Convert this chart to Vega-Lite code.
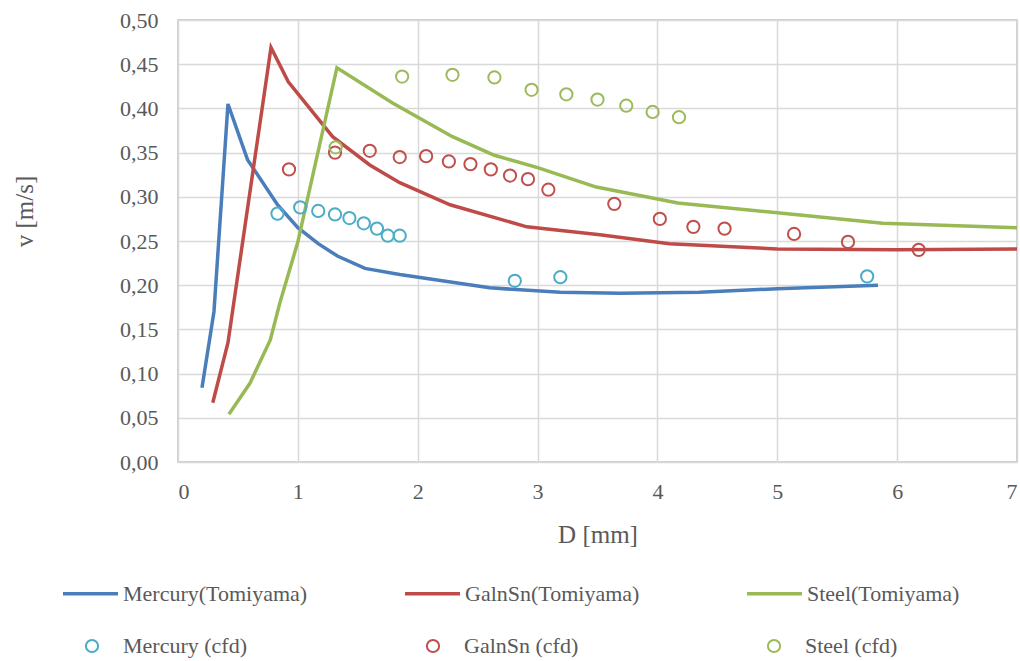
{
  "$schema": "https://vega.github.io/schema/vega-lite/v6.json",
  "width": 839,
  "height": 442,
  "autosize": {"type": "none"},
  "padding": {"left": 178, "top": 20, "right": 3, "bottom": 199},
  "background": "white",
  "config": {
    "font": "'Liberation Serif', 'Times New Roman', serif",
    "view": {"stroke": "#BFBFBF", "strokeWidth": 1.5},
    "axis": {
      "labelFont": "'Liberation Serif', 'Times New Roman', serif", "labelFontSize": 22, "labelColor": "#595959",
      "titleFont": "'Liberation Serif', 'Times New Roman', serif", "titleFontSize": 25, "titleColor": "#595959", "titleFontWeight": "normal",
      "gridColor": "#D9D9D9", "gridWidth": 1.5, "domain": false, "ticks": false
    },
    "legend": {
      "labelFont": "'Liberation Serif', 'Times New Roman', serif", "labelFontSize": 22, "labelColor": "#595959", "labelLimit": 400,
      "orient": "none", "direction": "horizontal", "columns": 3, "gridAlign": "all", "padding": 0, "title": null
    }
  },
  "data": {"values": [
    {"s": "Mercury(Tomiyama)", "t": "line", "D": 0.2, "v": 0.084},
    {"s": "Mercury(Tomiyama)", "t": "line", "D": 0.3, "v": 0.17},
    {"s": "Mercury(Tomiyama)", "t": "line", "D": 0.417, "v": 0.405},
    {"s": "Mercury(Tomiyama)", "t": "line", "D": 0.58, "v": 0.342},
    {"s": "Mercury(Tomiyama)", "t": "line", "D": 0.83, "v": 0.291},
    {"s": "Mercury(Tomiyama)", "t": "line", "D": 1.0, "v": 0.265},
    {"s": "Mercury(Tomiyama)", "t": "line", "D": 1.17, "v": 0.247},
    {"s": "Mercury(Tomiyama)", "t": "line", "D": 1.33, "v": 0.233},
    {"s": "Mercury(Tomiyama)", "t": "line", "D": 1.56, "v": 0.219},
    {"s": "Mercury(Tomiyama)", "t": "line", "D": 1.85, "v": 0.212},
    {"s": "Mercury(Tomiyama)", "t": "line", "D": 2.6, "v": 0.197},
    {"s": "Mercury(Tomiyama)", "t": "line", "D": 3.19, "v": 0.192},
    {"s": "Mercury(Tomiyama)", "t": "line", "D": 3.69, "v": 0.191},
    {"s": "Mercury(Tomiyama)", "t": "line", "D": 4.35, "v": 0.192},
    {"s": "Mercury(Tomiyama)", "t": "line", "D": 5.0, "v": 0.196},
    {"s": "Mercury(Tomiyama)", "t": "line", "D": 5.84, "v": 0.200},
    {"s": "GalnSn(Tomiyama)", "t": "line", "D": 0.29, "v": 0.067},
    {"s": "GalnSn(Tomiyama)", "t": "line", "D": 0.417, "v": 0.135},
    {"s": "GalnSn(Tomiyama)", "t": "line", "D": 0.776, "v": 0.469},
    {"s": "GalnSn(Tomiyama)", "t": "line", "D": 0.92, "v": 0.43},
    {"s": "GalnSn(Tomiyama)", "t": "line", "D": 1.29, "v": 0.368},
    {"s": "GalnSn(Tomiyama)", "t": "line", "D": 1.6, "v": 0.336},
    {"s": "GalnSn(Tomiyama)", "t": "line", "D": 1.85, "v": 0.316},
    {"s": "GalnSn(Tomiyama)", "t": "line", "D": 2.27, "v": 0.291},
    {"s": "GalnSn(Tomiyama)", "t": "line", "D": 2.91, "v": 0.266},
    {"s": "GalnSn(Tomiyama)", "t": "line", "D": 3.52, "v": 0.257},
    {"s": "GalnSn(Tomiyama)", "t": "line", "D": 4.1, "v": 0.247},
    {"s": "GalnSn(Tomiyama)", "t": "line", "D": 5.0, "v": 0.241},
    {"s": "GalnSn(Tomiyama)", "t": "line", "D": 6.0, "v": 0.240},
    {"s": "GalnSn(Tomiyama)", "t": "line", "D": 7.0, "v": 0.241},
    {"s": "Steel(Tomiyama)", "t": "line", "D": 0.425, "v": 0.054},
    {"s": "Steel(Tomiyama)", "t": "line", "D": 0.6, "v": 0.089},
    {"s": "Steel(Tomiyama)", "t": "line", "D": 0.77, "v": 0.138},
    {"s": "Steel(Tomiyama)", "t": "line", "D": 0.85, "v": 0.18},
    {"s": "Steel(Tomiyama)", "t": "line", "D": 1.0, "v": 0.249},
    {"s": "Steel(Tomiyama)", "t": "line", "D": 1.326, "v": 0.446},
    {"s": "Steel(Tomiyama)", "t": "line", "D": 1.79, "v": 0.406},
    {"s": "Steel(Tomiyama)", "t": "line", "D": 2.29, "v": 0.368},
    {"s": "Steel(Tomiyama)", "t": "line", "D": 2.64, "v": 0.347},
    {"s": "Steel(Tomiyama)", "t": "line", "D": 3.0, "v": 0.333},
    {"s": "Steel(Tomiyama)", "t": "line", "D": 3.49, "v": 0.311},
    {"s": "Steel(Tomiyama)", "t": "line", "D": 4.17, "v": 0.293},
    {"s": "Steel(Tomiyama)", "t": "line", "D": 5.0, "v": 0.282},
    {"s": "Steel(Tomiyama)", "t": "line", "D": 5.88, "v": 0.270},
    {"s": "Steel(Tomiyama)", "t": "line", "D": 7.0, "v": 0.265},
    {"s": "Mercury (cfd)", "t": "cfd", "D": 0.83, "v": 0.281},
    {"s": "Mercury (cfd)", "t": "cfd", "D": 1.02, "v": 0.288},
    {"s": "Mercury (cfd)", "t": "cfd", "D": 1.17, "v": 0.284},
    {"s": "Mercury (cfd)", "t": "cfd", "D": 1.31, "v": 0.280},
    {"s": "Mercury (cfd)", "t": "cfd", "D": 1.43, "v": 0.276},
    {"s": "Mercury (cfd)", "t": "cfd", "D": 1.55, "v": 0.270},
    {"s": "Mercury (cfd)", "t": "cfd", "D": 1.66, "v": 0.264},
    {"s": "Mercury (cfd)", "t": "cfd", "D": 1.75, "v": 0.256},
    {"s": "Mercury (cfd)", "t": "cfd", "D": 1.85, "v": 0.256},
    {"s": "Mercury (cfd)", "t": "cfd", "D": 2.81, "v": 0.205},
    {"s": "Mercury (cfd)", "t": "cfd", "D": 3.19, "v": 0.209},
    {"s": "Mercury (cfd)", "t": "cfd", "D": 5.75, "v": 0.210},
    {"s": "GalnSn (cfd)", "t": "cfd", "D": 0.926, "v": 0.331},
    {"s": "GalnSn (cfd)", "t": "cfd", "D": 1.31, "v": 0.350},
    {"s": "GalnSn (cfd)", "t": "cfd", "D": 1.60, "v": 0.352},
    {"s": "GalnSn (cfd)", "t": "cfd", "D": 1.85, "v": 0.345},
    {"s": "GalnSn (cfd)", "t": "cfd", "D": 2.07, "v": 0.346},
    {"s": "GalnSn (cfd)", "t": "cfd", "D": 2.26, "v": 0.340},
    {"s": "GalnSn (cfd)", "t": "cfd", "D": 2.44, "v": 0.337},
    {"s": "GalnSn (cfd)", "t": "cfd", "D": 2.61, "v": 0.331},
    {"s": "GalnSn (cfd)", "t": "cfd", "D": 2.77, "v": 0.324},
    {"s": "GalnSn (cfd)", "t": "cfd", "D": 2.92, "v": 0.320},
    {"s": "GalnSn (cfd)", "t": "cfd", "D": 3.09, "v": 0.308},
    {"s": "GalnSn (cfd)", "t": "cfd", "D": 3.64, "v": 0.292},
    {"s": "GalnSn (cfd)", "t": "cfd", "D": 4.02, "v": 0.275},
    {"s": "GalnSn (cfd)", "t": "cfd", "D": 4.30, "v": 0.266},
    {"s": "GalnSn (cfd)", "t": "cfd", "D": 4.56, "v": 0.264},
    {"s": "GalnSn (cfd)", "t": "cfd", "D": 5.14, "v": 0.258},
    {"s": "GalnSn (cfd)", "t": "cfd", "D": 5.59, "v": 0.249},
    {"s": "GalnSn (cfd)", "t": "cfd", "D": 6.18, "v": 0.240},
    {"s": "Steel (cfd)", "t": "cfd", "D": 1.315, "v": 0.356},
    {"s": "Steel (cfd)", "t": "cfd", "D": 1.87, "v": 0.436},
    {"s": "Steel (cfd)", "t": "cfd", "D": 2.29, "v": 0.438},
    {"s": "Steel (cfd)", "t": "cfd", "D": 2.64, "v": 0.435},
    {"s": "Steel (cfd)", "t": "cfd", "D": 2.95, "v": 0.421},
    {"s": "Steel (cfd)", "t": "cfd", "D": 3.24, "v": 0.416},
    {"s": "Steel (cfd)", "t": "cfd", "D": 3.50, "v": 0.410},
    {"s": "Steel (cfd)", "t": "cfd", "D": 3.74, "v": 0.403},
    {"s": "Steel (cfd)", "t": "cfd", "D": 3.96, "v": 0.396},
    {"s": "Steel (cfd)", "t": "cfd", "D": 4.18, "v": 0.390}
  ]},
  "encoding": {
    "x": {"field": "D", "type": "quantitative",
      "scale": {"domain": [0, 7], "nice": false},
      "axis": {"values": [0, 1, 2, 3, 4, 5, 6, 7], "title": "D [mm]", "labelPadding": 19, "titlePadding": 20}},
    "y": {"field": "v", "type": "quantitative",
      "scale": {"domain": [0, 0.5], "nice": false},
      "axis": {"values": [0, 0.05, 0.1, 0.15, 0.2, 0.25, 0.3, 0.35, 0.4, 0.45, 0.5],
        "labelExpr": "replace(format(datum.value, '.2f'), '.', ',')",
        "title": "v [m/s]", "labelPadding": 20, "titleX": -154, "titleY": 191, "titleBaseline": "middle", "titleAlign": "center", "titleAngle": 270}}
  },
  "layer": [
    {
      "transform": [{"filter": "datum.t == 'line'"}],
      "mark": {"type": "line", "strokeWidth": 3.5, "clip": true},
      "encoding": {
        "color": {"field": "s", "type": "nominal",
          "scale": {"domain": ["Mercury(Tomiyama)", "GalnSn(Tomiyama)", "Steel(Tomiyama)"],
                    "range": ["#4A7EBB", "#BE4B48", "#98B954"]},
          "legend": {"legendX": -117, "legendY": 544, "symbolType": "stroke", "symbolSize": 3025,
                     "symbolStrokeWidth": 3.5, "labelOffset": 3, "columnPadding": 90}}
      }
    },
    {
      "transform": [{"filter": "datum.t == 'cfd'"}],
      "mark": {"type": "point", "shape": "circle", "filled": false, "size": 150, "strokeWidth": 2, "opacity": 1},
      "encoding": {
        "stroke": {"field": "s", "type": "nominal",
          "scale": {"domain": ["Mercury (cfd)", "GalnSn (cfd)", "Steel (cfd)"],
                    "range": ["#4BACC6", "#C0504D", "#9BBB59"]},
          "legend": {"legendX": -97, "legendY": 615, "symbolType": "circle", "symbolSize": 150, "symbolOpacity": 1,
                     "symbolStrokeWidth": 2, "symbolFillColor": "transparent", "labelOffset": 20, "columnPadding": 175}}
      }
    }
  ],
  "resolve": {"scale": {"color": "independent", "stroke": "independent"}}
}
